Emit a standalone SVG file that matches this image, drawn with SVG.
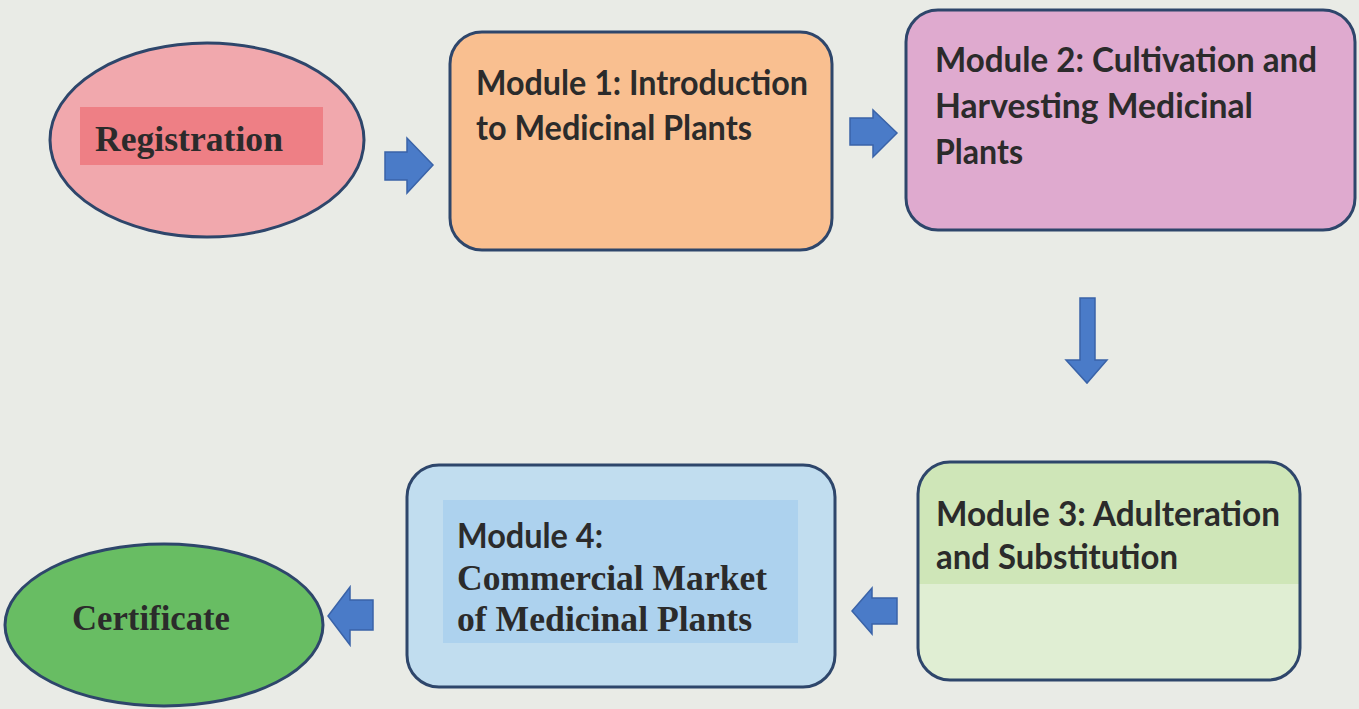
<svg xmlns="http://www.w3.org/2000/svg" width="1359" height="709" viewBox="0 0 1359 709">
<style>
.box{stroke:#2e466b;stroke-width:3}
.sans{font-family:Lato,"Open Sans","Liberation Sans",sans-serif;font-weight:bold;font-size:35px;fill:#2b2b2b}
.serif{font-family:"Liberation Serif","Times New Roman",serif;font-weight:bold;font-size:36px;fill:#2b2b2b}
.arr{fill:#4a7bc8;stroke:#3a63a8;stroke-width:1.5;stroke-linejoin:miter}
</style>
<defs>
<clipPath id="m3clip"><rect x="918" y="462" width="382" height="218" rx="32"/></clipPath>
</defs>
<rect width="1359" height="709" fill="#e9ebe6"/>
<g id="registration">
<ellipse class="box" cx="207" cy="140" rx="157" ry="97" fill="#f1a8ad"/>
<rect x="80" y="107" width="243" height="58" fill="#ee7f85"/>
<text class="serif" x="95" y="151" textLength="188" lengthAdjust="spacingAndGlyphs">Registration</text>
</g>
<g id="module1">
<rect class="box" x="450" y="32" width="382" height="218" rx="32" fill="#f9bf90"/>
<text class="sans" x="476" y="95" textLength="332" lengthAdjust="spacingAndGlyphs">Module 1: Introduction</text>
<text class="sans" x="476" y="140" textLength="276" lengthAdjust="spacingAndGlyphs">to Medicinal Plants</text>
</g>
<g id="module2">
<rect class="box" x="906" y="10" width="449" height="220" rx="32" fill="#dfaacf"/>
<text class="sans" x="935" y="72" textLength="382" lengthAdjust="spacingAndGlyphs">Module 2: Cultivation and</text>
<text class="sans" x="935" y="118" textLength="318" lengthAdjust="spacingAndGlyphs">Harvesting Medicinal</text>
<text class="sans" x="935" y="164" textLength="88" lengthAdjust="spacingAndGlyphs">Plants</text>
</g>
<g id="module3">
<rect x="918" y="462" width="382" height="218" rx="32" fill="#e0eed3"/>
<rect x="918" y="462" width="382" height="122" fill="#cfe6b8" clip-path="url(#m3clip)"/>
<rect class="box" x="918" y="462" width="382" height="218" rx="32" fill="none"/>
<text class="sans" x="936" y="526" textLength="344" lengthAdjust="spacingAndGlyphs">Module 3: Adulteration</text>
<text class="sans" x="936" y="569" textLength="242" lengthAdjust="spacingAndGlyphs">and Substitution</text>
</g>
<g id="module4">
<rect class="box" x="407" y="465" width="428" height="222" rx="32" fill="#c1ddef"/>
<rect x="443" y="500" width="355" height="143" fill="#add2ee"/>
<text class="sans" x="457" y="548" textLength="146" lengthAdjust="spacingAndGlyphs">Module 4:</text>
<text class="serif" x="457" y="590" textLength="310" lengthAdjust="spacingAndGlyphs">Commercial Market</text>
<text class="serif" x="457" y="631" textLength="295" lengthAdjust="spacingAndGlyphs">of Medicinal Plants</text>
</g>
<g id="certificate">
<ellipse class="box" cx="164" cy="625" rx="159" ry="81" fill="#68bd63"/>
<text class="serif" x="72" y="630" textLength="158" lengthAdjust="spacingAndGlyphs">Certificate</text>
</g>
<g id="connectors">
<polygon class="arr" points="385,152 407,152 407,138 433,165 407,193 407,180 385,180"/>
<polygon class="arr" points="850,118 873,118 873,110 897,133 873,157 873,145 850,145"/>
<polygon class="arr" points="1080,298 1095,298 1095,360 1107,360 1087,383 1066,360 1080,360"/>
<polygon class="arr" points="897,598 872,598 872,588 852,611 872,634 872,624 897,624"/>
<polygon class="arr" points="373,600 350,600 350,587 328,616 350,645 350,630 373,630"/>
</g>
</svg>
